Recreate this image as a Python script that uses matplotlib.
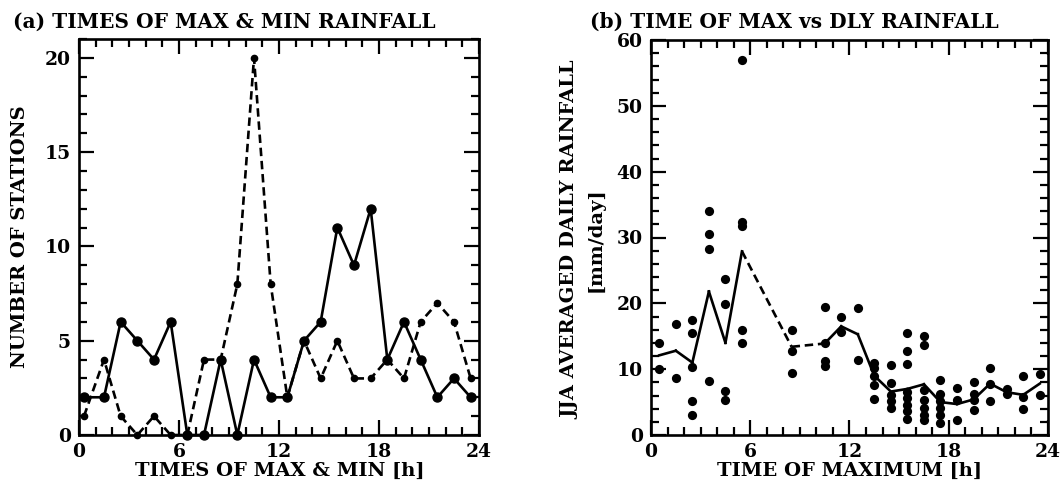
import matplotlib
matplotlib.use("Agg")
import matplotlib.pyplot as plt
from matplotlib.ticker import MultipleLocator

# ---- (a) number of stations by hour of max / min rainfall ----
hours_a = [0.3, 1.5, 2.5, 3.5, 4.5, 5.5, 6.5, 7.5, 8.5, 9.5, 10.5, 11.5,
           12.5, 13.5, 14.5, 15.5, 16.5, 17.5, 18.5, 19.5, 20.5, 21.5, 22.5, 23.5]
n_max = [2, 2, 6, 5, 4, 6, 0, 0, 4, 0, 4, 2, 2, 5, 6, 11, 9, 12, 4, 6, 4, 2, 3, 2]
n_min = [1, 4, 1, 0, 1, 0, 0, 4, 4, 8, 20, 8, 2, 5, 3, 5, 3, 3, 4, 3, 6, 7, 6, 3]

# ---- (b) station daily rainfall grouped by hour of maximum ----
station_hours = [0.5, 1.5, 2.5, 3.5, 4.5, 5.5, 8.5, 10.5, 11.5, 12.5, 13.5, 14.5,
                 15.5, 16.5, 17.5, 18.5, 19.5, 20.5, 21.5, 22.5, 23.5]
station_rain = [
    [14.0, 10.1],
    [16.9, 8.6],
    [17.4, 15.5, 10.4, 5.2, 3.1],
    [34.1, 30.5, 28.2, 8.2],
    [23.7, 19.9, 6.7, 5.3],
    [57.0, 32.4, 31.7, 15.9, 13.9],
    [16.0, 12.7, 9.4],
    [19.5, 14.0, 11.2, 10.5],
    [17.9, 15.7],
    [19.3, 11.4],
    [10.9, 10.2, 9.0, 7.6, 5.5],
    [10.65, 7.9, 6.1, 5.1, 4.1],
    [15.5, 12.7, 10.8, 6.6, 5.6, 4.6, 3.6, 2.4],
    [15.0, 13.7, 6.85, 5.3, 4.06, 3.0, 2.3],
    [8.4, 6.3, 5.1, 4.06, 3.04, 1.8],
    [7.1, 5.3, 2.3],
    [8.0, 6.3, 5.3, 3.8],
    [10.15, 7.8, 5.2],
    [7.0, 6.3],
    [9.0, 5.8, 4.0],
    [9.2, 6.1],
]
hourly_mean = [12.1, 12.8, 11.0, 21.8, 14.0, 27.9, 13.4, 13.9, 16.5, 15.3, 9.0,
               6.6, 7.0, 7.7, 5.0, 4.7, 5.4, 7.8, 6.5, 6.1, 7.8]

FONT = "DejaVu Serif"
plt.rcParams["font.family"] = FONT
plt.rcParams["font.weight"] = "bold"

W, H = 1064, 487
fig = plt.figure(figsize=(W / 100, H / 100), dpi=100)


def px_axes(x0, y0, x1, y1):
    return fig.add_axes([x0 / W, 1 - y1 / H, (x1 - x0) / W, (y1 - y0) / H])


def ftext(x, y, s, size=14, **kw):
    fig.text(x / W, 1 - y / H, s, fontsize=size, fontweight="bold", **kw)


def style(ax, ymaj, ymin):
    ax.xaxis.set_major_locator(MultipleLocator(6))
    ax.xaxis.set_minor_locator(MultipleLocator(1))
    ax.yaxis.set_major_locator(MultipleLocator(ymaj))
    ax.yaxis.set_minor_locator(MultipleLocator(ymin))
    ax.tick_params(which="both", direction="in", top=True, right=True,
                   width=1.6, labelsize=13.5)
    ax.tick_params(which="major", length=11, pad=6)
    ax.tick_params(which="minor", length=5.5)
    for sp in ax.spines.values():
        sp.set_linewidth(1.9)
        sp.set_zorder(5)
    for lab in ax.get_xticklabels() + ax.get_yticklabels():
        lab.set_fontweight("bold")


# panel (a)
ax1 = px_axes(79, 39, 479, 435)
ax1.plot(hours_a, n_max, "-", color="black", lw=1.9, marker="o", ms=6.5,
         clip_on=False, zorder=4)
ax1.plot(hours_a, n_min, color="black", lw=1.9, marker="o", ms=4.5,
         dashes=(3.2, 1.8), clip_on=False, zorder=4)
ax1.set_xlim(0, 24)
ax1.set_ylim(0, 21)
style(ax1, 5, 1)

# panel (b)
ax2 = px_axes(651, 40, 1048, 435)
for h, vals in zip(station_hours, station_rain):
    ax2.scatter([h] * len(vals), vals, s=44, color="black", linewidths=0,
                zorder=3)
# hourly curve: solid between neighbouring hours, dashed across gaps
for i in range(len(station_hours) - 1):
    xs = station_hours[i:i + 2]
    ys = hourly_mean[i:i + 2]
    if xs[1] - xs[0] > 1.01:
        ax2.plot(xs, ys, color="black", lw=1.9, dashes=(3.2, 1.8))
    else:
        ax2.plot(xs, ys, "-", color="black", lw=1.9)
ax2.set_xlim(0, 24)
ax2.set_ylim(0, 60)
style(ax2, 10, 2)

# titles and axis labels
ftext(13, 22, "(a) TIMES OF MAX & MIN RAINFALL", size=14.5, ha="left", va="center")
ftext(590, 22, "(b) TIME OF MAX vs DLY RAINFALL", size=14.5, ha="left", va="center")
ftext(280, 471, "TIMES OF MAX & MIN [h]", ha="center", va="center")
ftext(850, 471, "TIME OF MAXIMUM [h]", ha="center", va="center")
ftext(20, 237, "NUMBER OF STATIONS", ha="center", va="center", rotation=90)
ftext(570, 240, "JJA AVERAGED DAILY RAINFALL", ha="center", va="center",
      rotation=90)
ftext(596, 240, "[mm/day]", ha="center", va="center", rotation=90)

fig.savefig("out.png", dpi=100)
